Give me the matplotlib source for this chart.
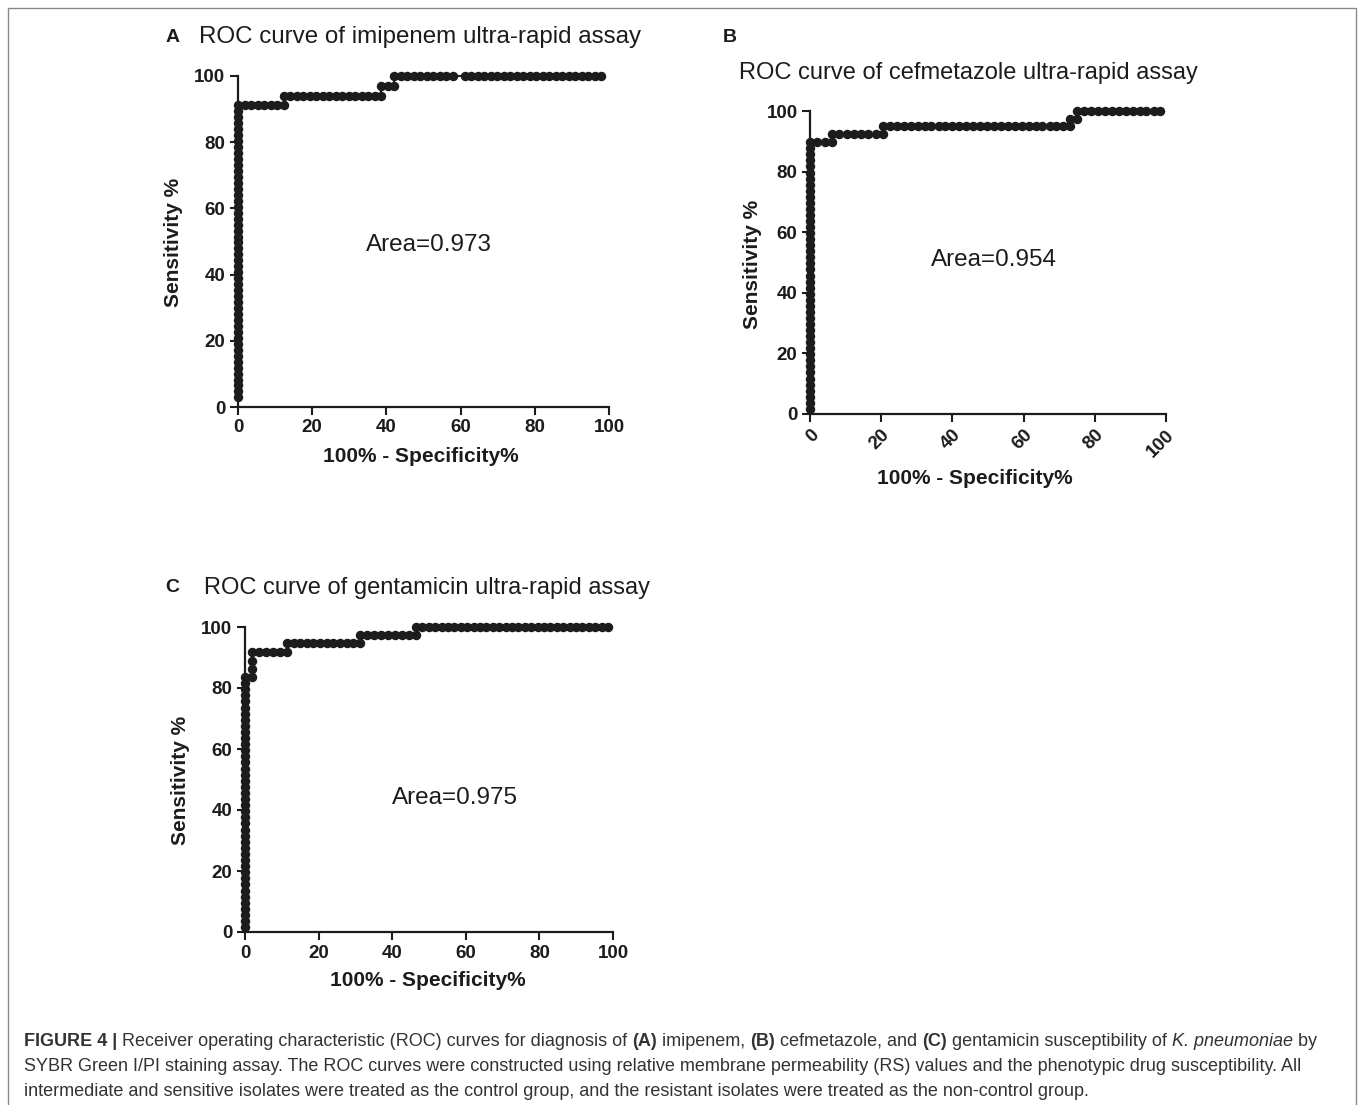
import matplotlib
matplotlib.use("Agg")
import matplotlib.pyplot as plt
from matplotlib.patches import Rectangle
from matplotlib.font_manager import FontProperties

plt.rcParams['font.family'] = ['Liberation Sans', 'DejaVu Sans']

W, H = 1358, 1105

# ---- data (x = 100% - specificity, y = sensitivity) ----
# panel A: imipenem
A_vert = [2.9, 4.7, 6.5, 8.3, 10.1, 11.9, 13.7, 15.5, 17.3, 19.1, 20.9, 22.7, 24.5,
          26.3, 28.1, 29.9, 31.7, 33.5, 35.3, 37.1, 38.9, 40.7, 42.5, 44.3, 46.1, 47.9,
          49.7, 51.5, 53.3, 55.1, 56.9, 58.7, 60.5, 62.3, 64.1, 65.9, 67.7, 69.5, 71.3,
          73.1, 74.9, 76.7, 78.5, 80.3, 82.1, 83.9, 85.7, 87.5, 89.3, 91.2]
A_rows = [
    (91.2, [1.8, 3.5, 5.3, 7.0, 8.8, 10.5, 12.3]),
    (94.1, [12.3, 14.0, 15.8, 17.5, 19.3, 21.1, 22.8, 24.6, 26.3, 28.1, 29.8, 31.6,
            33.3, 35.1, 36.8, 38.6]),
    (97.1, [38.6, 40.4, 42.1]),
    (100.0, [42.1, 43.9, 45.6, 47.4, 49.1, 50.9, 52.6, 54.4, 56.1, 57.9, 61.2, 62.9,
             64.7, 66.4, 68.2, 69.9, 71.7, 73.4, 75.2, 76.9, 78.7, 80.4, 82.2, 83.9,
             85.7, 87.4, 89.2, 90.9, 92.7, 94.4, 96.2, 97.9]),
]

# panel B: cefmetazole
B_vert = [1.7, 3.7, 5.7, 7.7, 9.7, 11.7, 13.7, 15.7, 17.7, 19.7, 21.7, 23.7, 25.7,
          27.7, 29.7, 31.7, 33.7, 35.7, 37.7, 39.7, 41.7, 43.7, 45.7, 47.7, 49.7, 51.7,
          53.7, 55.7, 57.7, 59.7, 61.7, 63.7, 65.7, 67.7, 69.7, 71.7, 73.7, 75.7, 77.7,
          79.7, 81.7, 83.7, 85.7, 87.7, 89.7]
B_rows = [
    (89.7, [2.1, 4.2, 6.2]),
    (92.3, [6.2, 8.2, 10.3, 12.3, 14.4, 16.4, 18.5, 20.5]),
    (94.9, [20.5, 22.4, 24.4, 26.3, 28.3, 30.2, 32.2, 34.1, 36.1, 38.0, 40.0, 41.9,
            43.9, 45.8, 47.8, 49.7, 51.7, 53.6, 55.6, 57.5, 59.5, 61.4, 63.4, 65.3,
            67.3, 69.2, 71.2, 73.1]),
    (97.4, [73.1, 75.0]),
    (100.0, [75.0, 77.0, 78.9, 80.9, 82.8, 84.8, 86.7, 88.7, 90.6, 92.6, 94.5, 96.5,
             98.4]),
]

# panel C: gentamicin
C_vert = [1.6, 3.6, 5.6, 7.6, 9.6, 11.6, 13.6, 15.6, 17.6, 19.6, 21.6, 23.6, 25.6,
          27.6, 29.6, 31.6, 33.6, 35.6, 37.6, 39.6, 41.6, 43.6, 45.6, 47.6, 49.6, 51.6,
          53.6, 55.6, 57.6, 59.6, 61.6, 63.6, 65.6, 67.6, 69.6, 71.6, 73.6, 75.6, 77.6,
          79.6, 81.6, 83.6]
C_step_x = [1.9, 1.9, 1.9, 1.9]
C_step_y = [83.6, 86.3, 89.0, 91.8]
C_rows = [
    (91.8, [3.8, 5.7, 7.6, 9.5, 11.4]),
    (94.7, [11.4, 13.2, 15.0, 16.8, 18.6, 20.4, 22.2, 24.0, 25.8, 27.6, 29.4, 31.2]),
    (97.4, [31.2, 33.1, 35.0, 36.9, 38.8, 40.7, 42.6, 44.5, 46.4]),
    (100.0, [46.4, 48.1, 49.9, 51.6, 53.4, 55.1, 56.8, 58.6, 60.3, 62.1, 63.8, 65.5,
             67.3, 69.0, 70.8, 72.5, 74.2, 76.0, 77.7, 79.5, 81.2, 82.9, 84.7, 86.4,
             88.2, 89.9, 91.6, 93.4, 95.1, 96.9, 98.6]),
]

ticks = [0, 20, 40, 60, 80, 100]
titles = ["ROC curve of imipenem ultra-rapid assay",
          "ROC curve of cefmetazole ultra-rapid assay",
          "ROC curve of gentamicin ultra-rapid assay"]
areas = ["Area=0.973", "Area=0.954", "Area=0.975"]


def build(vert, rows, extra_x=(), extra_y=()):
    xs = [0.0] * len(vert) + list(extra_x)
    ys = list(vert) + list(extra_y)
    for level, row in rows:
        xs += row
        ys += [level] * len(row)
    return xs, ys


def fx(x):
    return x / W


def fy(y):
    return 1 - y / H


fig = plt.figure(figsize=(W / 100, H / 100), dpi=100)

# outer frame
fig.patches.append(Rectangle((fx(8), -0.01), fx(1356) - fx(8), fy(8) + 0.01,
                             transform=fig.transFigure, fill=False,
                             edgecolor='#8a8a8a', lw=1.0))


def roc_axes(px_box, xs, ys, rotate=False):
    l, r, t, b = px_box
    ax = fig.add_axes([fx(l), fy(b), (r - l) / W, (b - t) / H])
    ax.plot(xs, ys, color='#1c1c1c', lw=1.5, marker='o', ms=5.8,
            clip_on=False, zorder=3)
    ax.set_xlim(0, 100)
    ax.set_ylim(0, 100)
    for s in ['top', 'right']:
        ax.spines[s].set_visible(False)
    for s in ['left', 'bottom']:
        ax.spines[s].set_linewidth(1.6)
        ax.spines[s].set_color('#1c1c1c')
    ax.set_xticks(ticks)
    ax.set_yticks(ticks)
    ax.tick_params(direction='out', length=6, width=1.5, labelsize=13.5, pad=3,
                   colors='#1c1c1c')
    for lab in ax.get_xticklabels() + ax.get_yticklabels():
        lab.set_fontweight('bold')
    if rotate:
        for lab in ax.get_xticklabels():
            lab.set_rotation(45)
            lab.set_ha('right')
            lab.set_va('top')
            lab.set_rotation_mode('anchor')
    ax.patch.set_alpha(0)
    return ax


xa, ya = build(A_vert, A_rows)
xb, yb = build(B_vert, B_rows)
xc, yc = build(C_vert, C_rows, C_step_x, C_step_y)

roc_axes((238, 609, 76, 407), xa, ya)
roc_axes((810, 1166, 111, 414), xb, yb, rotate=True)
roc_axes((245, 613, 627, 932), xc, yc)

txt = dict(color='#1c1c1c')
# panel letters and titles
fig.text(fx(173), fy(37), "A", ha='center', va='center', fontsize=14, fontweight='bold', **txt)
fig.text(fx(199), fy(37), titles[0], ha='left', va='center', fontsize=17.4, **txt)
fig.text(fx(730), fy(37), "B", ha='center', va='center', fontsize=14, fontweight='bold', **txt)
fig.text(fx(739), fy(73), titles[1], ha='left', va='center', fontsize=17, **txt)
fig.text(fx(172), fy(587), "C", ha='center', va='center', fontsize=14, fontweight='bold', **txt)
fig.text(fx(204), fy(588), titles[2], ha='left', va='center', fontsize=17, **txt)

# axis labels
for (cx, cy), s, rot in [((421, 456), "100% - Specificity%", 0),
                         ((174, 242), "Sensitivity %", 90),
                         ((975, 479), "100% - Specificity%", 0),
                         ((752, 264), "Sensitivity %", 90),
                         ((428, 981), "100% - Specificity%", 0),
                         ((181, 780), "Sensitivity %", 90)]:
    fig.text(fx(cx), fy(cy), s, ha='center', va='center', rotation=rot,
             fontsize=15, fontweight='bold', **txt)

# area annotations
for (cx, cy), s in zip([(429, 245), (994, 260), (455, 798)], areas):
    fig.text(fx(cx), fy(cy), s, ha='center', va='center', fontsize=17.5, **txt)

# caption with mixed styles
cap_lines = [
    [("FIGURE 4 |", 'bold', 'normal'),
     (" Receiver operating characteristic (ROC) curves for diagnosis of ", 'normal', 'normal'),
     ("(A)", 'bold', 'normal'), (" imipenem, ", 'normal', 'normal'),
     ("(B)", 'bold', 'normal'), (" cefmetazole, and ", 'normal', 'normal'),
     ("(C)", 'bold', 'normal'), (" gentamicin susceptibility of ", 'normal', 'normal'),
     ("K. pneumoniae", 'normal', 'italic'), (" by", 'normal', 'normal')],
    [("SYBR Green I/PI staining assay. The ROC curves were constructed using relative "
      "membrane permeability (RS) values and the phenotypic drug susceptibility. All",
      'normal', 'normal')],
    [("intermediate and sensitive isolates were treated as the control group, and the "
      "resistant isolates were treated as the non-control group.", 'normal', 'normal')],
]
cap_base = [1046, 1071, 1096]

renderer = fig.canvas.get_renderer()


def px_width(s, weight, style, size):
    fp = FontProperties(family=['Liberation Sans', 'DejaVu Sans'], weight=weight,
                        style=style, size=size)
    w1 = renderer.get_text_width_height_descent("|" + s + "|", fp, ismath=False)[0]
    w0 = renderer.get_text_width_height_descent("||", fp, ismath=False)[0]
    return w1 - w0


base_size = 10.0
w_line1 = sum(px_width(s, wt, st, base_size) for s, wt, st in cap_lines[0])
cap_size = base_size * (1318 - 24) / w_line1

for runs, by in zip(cap_lines, cap_base):
    x = 24.0
    for s, wt, st in runs:
        fig.text(fx(x), fy(by), s, ha='left', va='baseline', fontsize=cap_size,
                 fontweight=wt, fontstyle=st, color='#333333')
        x += px_width(s, wt, st, cap_size)

fig.savefig("out.png", dpi=100)
